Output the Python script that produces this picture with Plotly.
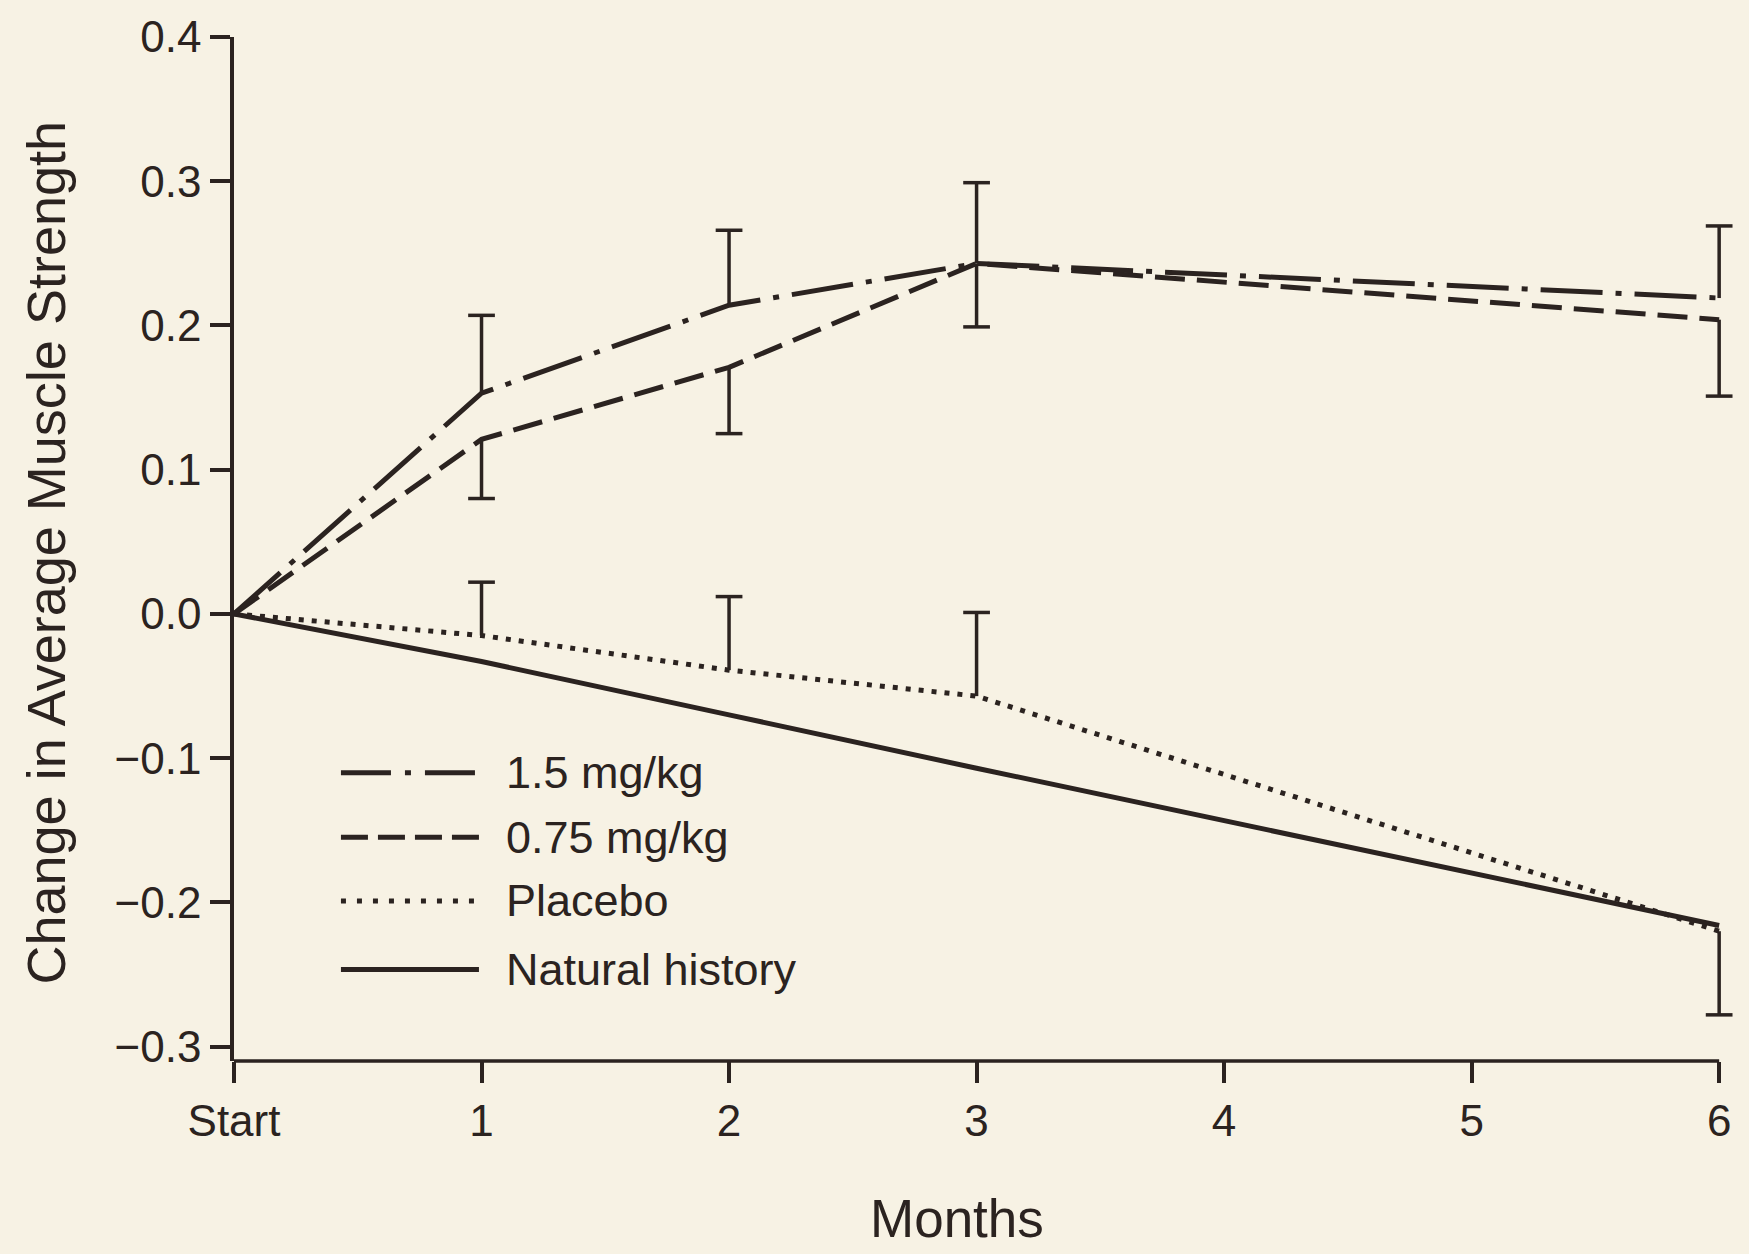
import plotly.graph_objects as go

# ---------------- data ----------------
months = [0, 1, 2, 3, 6]
tick_vals = [0, 1, 2, 3, 4, 5, 6]
tick_text = ["Start", "1", "2", "3", "4", "5", "6"]
y_ticks = [-0.3, -0.2, -0.1, 0.0, 0.1, 0.2, 0.3, 0.4]

dose_15 = [0.0, 0.153, 0.214, 0.243, 0.219]
dose_075 = [0.0, 0.121, 0.171, 0.243, 0.204]
placebo = [0.0, -0.015, -0.039, -0.057, -0.220]
natural_months = [0, 1, 2, 3, 6]
natural = [0.0, -0.033, -0.070, -0.107, -0.216]

# error bars (one-sided, as drawn)
err_months = [1, 2, 3, 6]
err_up_15 = [0.054, 0.052, 0.056, 0.050]
err_dn_075 = [0.041, 0.046, 0.044, 0.053]
placebo_up_months = [1, 2, 3]
placebo_up = [0.037, 0.051, 0.058]
placebo_dn_months = [6]
placebo_dn = [0.058]

series_names = ["1.5 mg/kg", "0.75 mg/kg", "Placebo", "Natural history"]

# ---------------- style ----------------
INK = "#2b2320"
BG = "#f7f2e4"
FONT = "Liberation Sans, Arial, Helvetica, sans-serif"
CAP = 0.054  # half cap width in months
DASH_15 = "62px,13px,6px,13px"
DASH_075 = "30px,12px"
DOT = "5px,8px"


def value_at(xs, ys, m):
    return ys[xs.index(m)]


def error_path(xs_all, ys_all, xs, errs, sign):
    px, py = [], []
    for m, e in zip(xs, errs):
        y0 = value_at(xs_all, ys_all, m)
        y1 = y0 + sign * e
        px += [m, m, None, m - CAP, m + CAP, None]
        py += [y0, y1, None, y1, y1, None]
    return px, py


fig = go.Figure()

for xs, errs, ys, sign in [
    (err_months, err_up_15, dose_15, 1),
    (err_months, err_dn_075, dose_075, -1),
    (placebo_up_months, placebo_up, placebo, 1),
    (placebo_dn_months, placebo_dn, placebo, -1),
]:
    ex, ey = error_path(months, ys, xs, errs, sign)
    fig.add_trace(go.Scatter(x=ex, y=ey, mode="lines",
                             line=dict(color=INK, width=3.5),
                             showlegend=False, hoverinfo="skip"))

fig.add_trace(go.Scatter(x=natural_months, y=natural, mode="lines", name=series_names[3],
                         line=dict(color=INK, width=5), showlegend=False))
fig.add_trace(go.Scatter(x=months, y=placebo, mode="lines", name=series_names[2],
                         line=dict(color=INK, width=5, dash=DOT), showlegend=False))
fig.add_trace(go.Scatter(x=months, y=dose_075, mode="lines", name=series_names[1],
                         line=dict(color=INK, width=5, dash=DASH_075), showlegend=False))
fig.add_trace(go.Scatter(x=months, y=dose_15, mode="lines", name=series_names[0],
                         line=dict(color=INK, width=5, dash=DASH_15), showlegend=False))

# ---------------- manual legend (long line samples) ----------------
legend_rows = [0.2816, 0.2184, 0.1563, 0.0893]
legend_dash = ["50px,14px,6px,14px", "27px,10px", "5px,11px", "solid"]
shapes = []
annotations = []
for name, yy, dsh in zip(series_names, legend_rows, legend_dash):
    shapes.append(dict(type="line", xref="paper", yref="paper", x0=0.0713, x1=0.1633,
                       y0=yy, y1=yy, line=dict(color=INK, width=5, dash=dsh)))
    annotations.append(dict(text=name, xref="paper", yref="paper", x=0.18, y=yy,
                            xanchor="left", yanchor="middle", showarrow=False,
                            font=dict(size=45, color=INK, family=FONT)))

# x-axis line from Start to 6
shapes.append(dict(type="line", xref="x", yref="paper", x0=tick_vals[0], x1=tick_vals[-1],
                   y0=0, y1=0, line=dict(color=INK, width=3.5)))

annotations.append(dict(text="Change in Average Muscle Strength", xref="paper", yref="paper",
                        x=-0.1253, y=0.4966, textangle=-90, showarrow=False,
                        xanchor="center", yanchor="middle",
                        font=dict(size=54, color=INK, family=FONT)))
annotations.append(dict(text="Months", xref="paper", yref="paper", x=0.482, y=-0.1534,
                        showarrow=False, xanchor="center", yanchor="middle",
                        font=dict(size=53, color=INK, family=FONT)))

fig.update_layout(
    width=1749, height=1254,
    margin=dict(l=234, r=15, t=29, b=193),
    paper_bgcolor=BG, plot_bgcolor=BG,
    font=dict(family=FONT, color=INK),
    showlegend=False,
    shapes=shapes,
    annotations=annotations,
    xaxis=dict(range=[0, 6.06], tickvals=tick_vals, ticktext=tick_text,
               showline=False, showgrid=False, zeroline=False,
               ticks="outside", ticklen=21, tickwidth=3.5, tickcolor=INK,
               tickfont=dict(size=44, color=INK, family=FONT)),
    yaxis=dict(range=[-0.31, 0.4], tickvals=y_ticks, tickformat=".1f",
               showline=True, linewidth=3.5, linecolor=INK,
               showgrid=False, zeroline=False,
               ticks="outside", ticklen=20, tickwidth=3.5, tickcolor=INK,
               tickfont=dict(size=44, color=INK, family=FONT)),
)

fig.write_html(
    "out.html",
    config={"displayModeBar": False},
    post_script="document.body.style.margin='0';document.body.style.background='%s';" % BG,
)
